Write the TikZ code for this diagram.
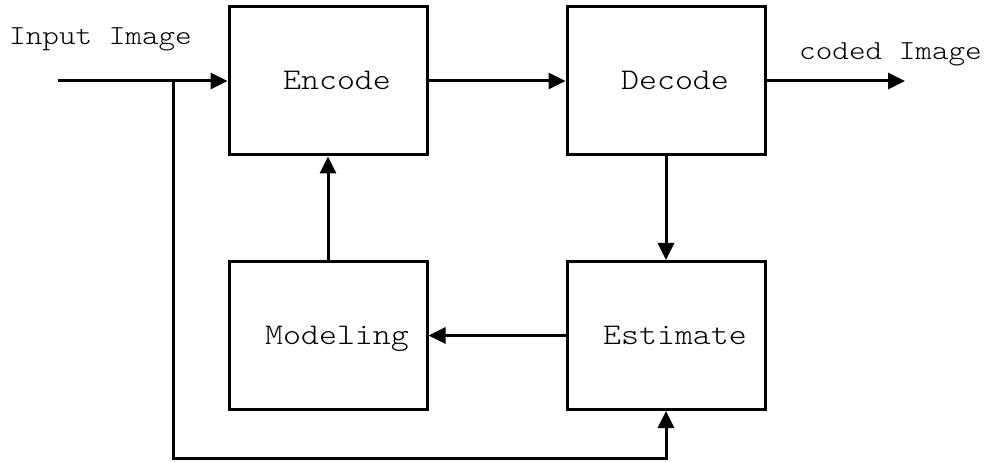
\documentclass[tikz,border=0pt]{standalone}
\usepackage{fontspec}
\newfontfamily\typer{Latin Modern Mono Light}
\usetikzlibrary{arrows.meta}

\begin{document}
\begin{tikzpicture}[x=1pt, y=-1pt,
  block/.style={draw, line width=3pt, minimum width=198pt, minimum height=148pt,
    inner sep=0pt, text height=18pt, text depth=0pt,
    font=\typer\fontsize{30}{36}\selectfont\addfontfeature{FakeStretch=1.14}},
  flow/.style={line width=3pt, -{Triangle[length=17pt, width=16pt]}},
  caption/.style={inner sep=0pt, anchor=base west,
    font=\typer\fontsize{27.5}{34}\selectfont\addfontfeature{FakeStretch=1.15}}]
  \useasboundingbox (0,0) rectangle (987,462);

  % processing blocks
  \node[block] (enc) at (328,81)    {\hspace*{18pt}Encode};
  \node[block] (dec) at (666,81)    {\hspace*{18pt}Decode};
  \node[block] (mod) at (328,335.5) {\hspace*{18pt}Modeling};
  \node[block] (est) at (666,335.5) {\hspace*{18pt}Estimate};

  % outer labels
  \node[caption] (inlbl)  at (9,45)   {Input Image};
  \node[caption] (outlbl) at (799,60) {coded Image};

  % free ends and corners of the wires
  \coordinate (src)    at (58,81);
  \coordinate (tap)    at (173,81);
  \coordinate (corner) at (173,458);
  \coordinate (sink)   at (905,81);

  % connections
  \draw[flow] (src) -- (enc.west);
  \draw[flow] (enc.east) -- (dec.west);
  \draw[flow] (dec.east) -- (sink);
  \draw[flow] (dec.south) -- (est.north);
  \draw[flow] (est.west) -- (mod.east);
  \draw[flow] (mod.north) -- (enc.south);
  \draw[flow, line join=miter] (tap) -- (corner) -| (est.south);
\end{tikzpicture}
\end{document}
